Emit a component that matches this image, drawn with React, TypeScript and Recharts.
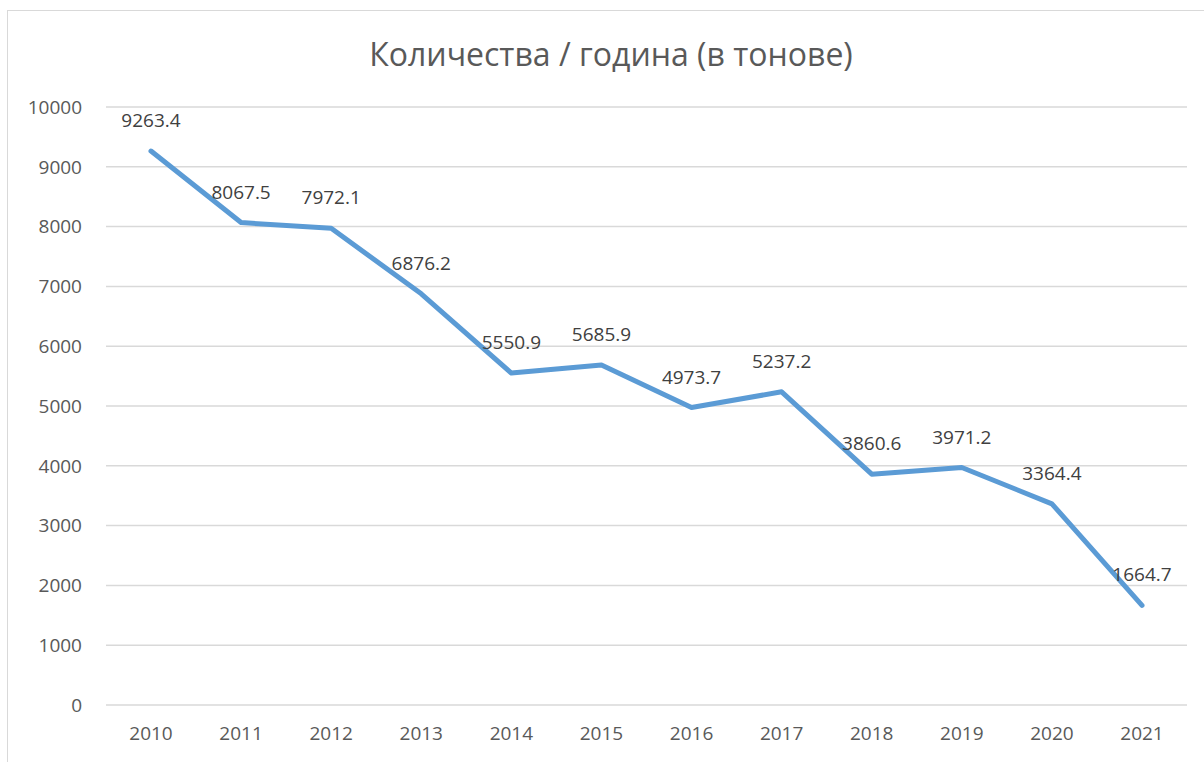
import React from 'react';
import { LineChart, Line, XAxis, YAxis, CartesianGrid, LabelList } from 'recharts';

const years = ['2010', '2011', '2012', '2013', '2014', '2015', '2016', '2017', '2018', '2019', '2020', '2021'];
const tonnes = [9263.4, 8067.5, 7972.1, 6876.2, 5550.9, 5685.9, 4973.7, 5237.2, 3860.6, 3971.2, 3364.4, 1664.7];
const yTicks = [0, 1000, 2000, 3000, 4000, 5000, 6000, 7000, 8000, 9000, 10000];

const data = years.map((year, i) => ({ year, value: tonnes[i] }));

const FONT = '"Open Sans", sans-serif';

export default function App() {
  return (
    <div style={{ position: 'absolute', left: 0, top: 0, width: 1204, height: 762, background: '#fff', overflow: 'hidden', fontFamily: FONT }}>
      {/* chart frame (only top and left edges are visible in the crop) */}
      <div style={{ position: 'absolute', left: 7, top: 10, width: 1300, height: 900, border: '1px solid #d9d9d9', boxSizing: 'border-box' }} />
      <div style={{ position: 'absolute', left: 0, top: 35, width: 1222, textAlign: 'center', fontSize: 32, color: '#595959', lineHeight: '38px' }}>
        Количества / година (в тонове)
      </div>
      <div style={{ position: 'absolute', left: 0, top: 0 }}>
        <LineChart width={1204} height={762} data={data} margin={{ top: 107, right: 17, bottom: 0, left: 0 }}>
          <CartesianGrid vertical={false} stroke="#d9d9d9" strokeWidth={1.5} />
          <XAxis
            dataKey="year"
            axisLine={false}
            tickLine={false}
            tickMargin={16}
            height={57}
            padding={{ left: 45, right: 45 }}
            tick={{ fontSize: 19, fill: '#595959', fontFamily: FONT }}
          />
          <YAxis
            domain={[0, 10000]}
            ticks={yTicks}
            interval={0}
            axisLine={false}
            tickLine={false}
            tickMargin={18}
            width={106}
            tick={{ fontSize: 19, fill: '#595959', fontFamily: FONT }}
          />
          <Line
            type="linear"
            dataKey="value"
            stroke="#5b9bd5"
            strokeWidth={5}
            strokeLinecap="round"
            strokeLinejoin="round"
            dot={false}
            isAnimationActive={false}
          >
            <LabelList dataKey="value" position="top" offset={24} style={{ fontSize: 19, fill: '#404040', fontFamily: FONT }} />
          </Line>
        </LineChart>
      </div>
    </div>
  );
}
